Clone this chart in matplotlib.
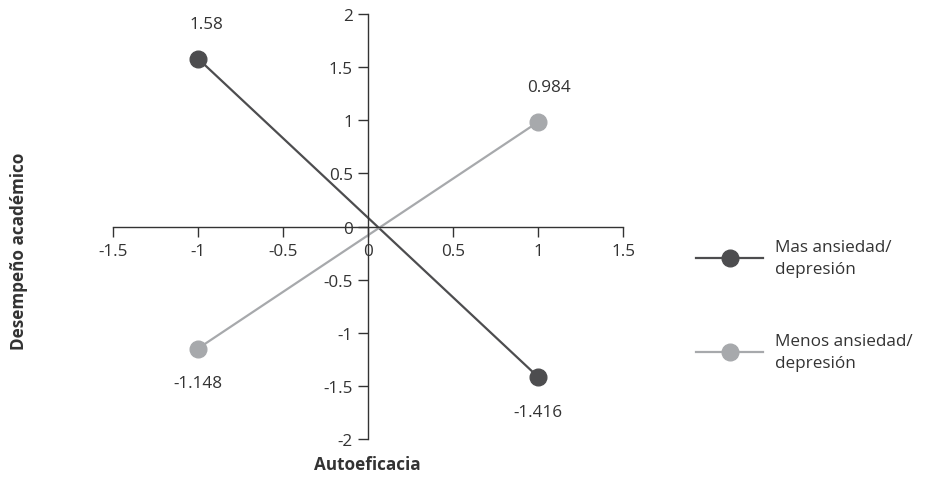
import matplotlib.pyplot as plt

plt.rcParams['font.family'] = ['Open Sans', 'DejaVu Sans']

autoeficacia = [-1, 1]
mas_ansiedad = [1.58, -1.416]
menos_ansiedad = [-1.148, 0.984]
series_names = ['Mas ansiedad/\ndepresión', 'Menos ansiedad/\ndepresión']
x_ticks = [-1.5, -1, -0.5, 0, 0.5, 1, 1.5]
y_ticks = [-2, -1.5, -1, -0.5, 0, 0.5, 1, 1.5, 2]

dark = '#4d4d4f'
light = '#a7a9ac'
fs = 12.3

fig = plt.figure(figsize=(9.33, 4.81), dpi=100)
ax = fig.add_axes([0.121, 0.085, 0.547, 0.884])

l1, = ax.plot(autoeficacia, mas_ansiedad, color=dark, lw=1.6, marker='o',
              markersize=12, label=series_names[0])
l2, = ax.plot(autoeficacia, menos_ansiedad, color=light, lw=1.6, marker='o',
              markersize=12, label=series_names[1])
ax.set_zorder(1)

# etiquetas de valores
for x, y in zip(autoeficacia, mas_ansiedad):
    off = 25 if y > 0 else -25
    ax.annotate(f'{y:g}', (x, y), xytext=(6 if x < 0 else 0, off), textcoords='offset points',
                ha='center', va='center', fontsize=fs, color='#333333')
for x, y in zip(autoeficacia, menos_ansiedad):
    off = 25 if y > 0 else -25
    ax.annotate(f'{y:g}', (x, y), xytext=(0 if x < 0 else 8, off), textcoords='offset points',
                ha='center', va='center', fontsize=fs, color='#333333')

ax.set_xlim(-1.5, 1.5)
ax.set_ylim(-2, 2)
ax.spines['left'].set_position(('data', 0))
ax.spines['bottom'].set_position(('data', 0))
ax.spines['right'].set_visible(False)
ax.spines['top'].set_visible(False)
for s in ['left', 'bottom']:
    ax.spines[s].set_color('#333333')
    ax.spines[s].set_linewidth(1.0)

ax.set_xticks(x_ticks)
ax.set_xticklabels([f'{t:g}' for t in x_ticks])
ax.set_yticks(y_ticks)
ax.set_yticklabels([f'{t:g}' for t in y_ticks])
ax.tick_params(axis='both', direction='out', length=7, width=1.0, color='#333333',
               labelsize=fs, labelcolor='#333333')
ax.tick_params(axis='x', pad=5)
ax.tick_params(axis='y', pad=4)

fig.text(0.020, 0.477, 'Desempeño académico', rotation=90, ha='center', va='center',
         fontsize=fs, fontweight='bold', color='#333333')
fig.text(0.394, 0.033, 'Autoeficacia', ha='center', va='center',
         fontsize=fs, fontweight='bold', color='#333333')

leg = fig.legend(handles=[l1, l2], loc='center left', bbox_to_anchor=(0.73, 0.364),
                 frameon=False, fontsize=fs, handlelength=3.9, handletextpad=0.7,
                 labelspacing=3.3, labelcolor='#333333')
for t in leg.get_texts():
    t.set_linespacing(1.45)

fig.savefig('out.png', dpi=100)
